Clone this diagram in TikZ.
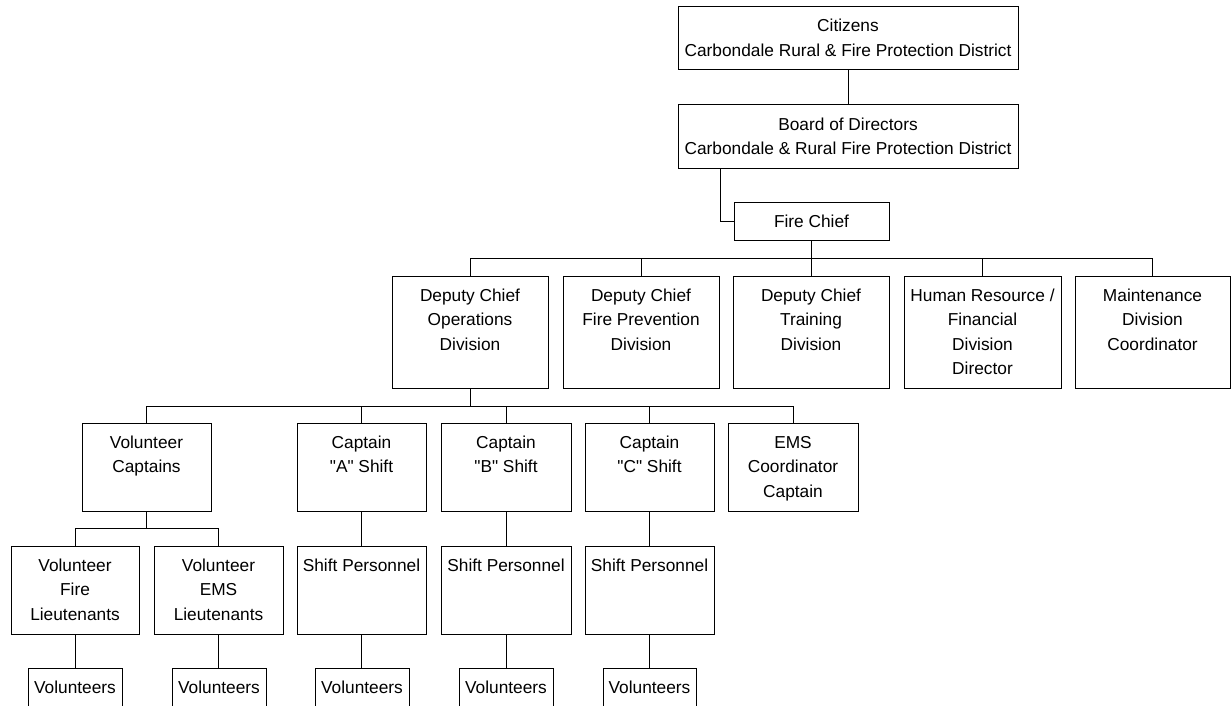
\documentclass[tikz,border=0pt]{standalone}
\usepackage{fontspec}
\setmainfont{Liberation Sans}[Ligatures=TeXOff]
\tikzset{
  boxst/.style={draw=black, line width=1pt, rectangle, inner sep=0pt, outer sep=0pt},
  txtst/.style={inner sep=0pt, outer sep=0pt, align=center, font=\fontsize{17.3pt}{24.5pt}\selectfont},
  conn/.style={draw=black, line width=1pt}
}
\newcommand\firstl{\rule{0pt}{14pt}}
\newcommand\obox[6]{%
  \node[boxst, minimum width={#4-#2}, minimum height={#5-#3}, anchor=north west] (#1) at (#2,#3) {};
  \node[txtst, anchor=north] (#1-t) at ([yshift=-11pt]#1.north) {\firstl #6};
}
\begin{document}
\begin{tikzpicture}[x=1pt,y=-1pt]
\useasboundingbox (0,0) rectangle (1231,706);
\clip (0,0) rectangle (1231,706);
\fill[white] (0,0) rectangle (1231,706);
% level 0-2
\obox{citizens}{678}{7}{1018}{70}{Citizens\\Carbondale Rural \& Fire Protection District}
\obox{board}{678}{105}{1018}{168}{Board of Directors\\Carbondale \& Rural Fire Protection District}
\obox{chief}{734}{202}{889}{240}{Fire Chief}
% level 3
\obox{dcops}{392}{276}{548}{388}{Deputy Chief\\Operations\\Division}
\obox{dcfp}{563}{276}{719}{388}{Deputy Chief\\Fire Prevention\\Division}
\obox{dctr}{733}{276}{889}{388}{Deputy Chief\\Training\\Division}
\obox{hr}{904}{276}{1061}{388}{Human Resource /\\Financial\\Division\\Director}
\obox{maint}{1075}{276}{1230}{388}{Maintenance\\Division\\Coordinator}
% level 4
\obox{volcap}{82}{423}{211}{511}{Volunteer\\Captains}
\obox{capa}{297}{423}{426}{511}{Captain\\"A" Shift}
\obox{capb}{441}{423}{571}{511}{Captain\\"B" Shift}
\obox{capc}{585}{423}{714}{511}{Captain\\"C" Shift}
\obox{ems}{728}{423}{858}{511}{EMS\\Coordinator\\Captain}
% level 5
\obox{vfl}{11}{546}{139}{634}{Volunteer\\Fire\\Lieutenants}
\obox{vel}{154}{546}{283}{634}{Volunteer\\EMS\\Lieutenants}
\obox{spa}{297}{546}{426}{634}{Shift Personnel}
\obox{spb}{441}{546}{571}{634}{Shift Personnel}
\obox{spc}{585}{546}{714}{634}{Shift Personnel}
% level 6
\obox{vol1}{28}{668}{122}{724}{Volunteers}
\obox{vol2}{172}{668}{266}{724}{Volunteers}
\obox{vol3}{315}{668}{409}{724}{Volunteers}
\obox{vol4}{459}{668}{553}{724}{Volunteers}
\obox{vol5}{603}{668}{696}{724}{Volunteers}
% connectors
\draw[conn] (citizens.south) -- (board.north);
\draw[conn] ([xshift=42pt]board.south west) |- (chief.west);
\foreach \c in {dcops,dcfp,dctr,hr,maint}
  \draw[conn] (chief.south) -- ++(0,18) -| (\c.north);
\foreach \c in {volcap,capa,capb,capc,ems}
  \draw[conn] (dcops.south) -- ++(0,18) -| (\c.north);
\foreach \c in {vfl,vel}
  \draw[conn] (volcap.south) -- ++(0,17) -| (\c.north);
\draw[conn] (capa.south) -- (spa.north);
\draw[conn] (capb.south) -- (spb.north);
\draw[conn] (capc.south) -- (spc.north);
\draw[conn] (vfl.south) -- (vfl.south |- vol1.north);
\draw[conn] (vel.south) -- (vel.south |- vol2.north);
\draw[conn] (spa.south) -- (spa.south |- vol3.north);
\draw[conn] (spb.south) -- (spb.south |- vol4.north);
\draw[conn] (spc.south) -- (spc.south |- vol5.north);
\end{tikzpicture}
\end{document}
